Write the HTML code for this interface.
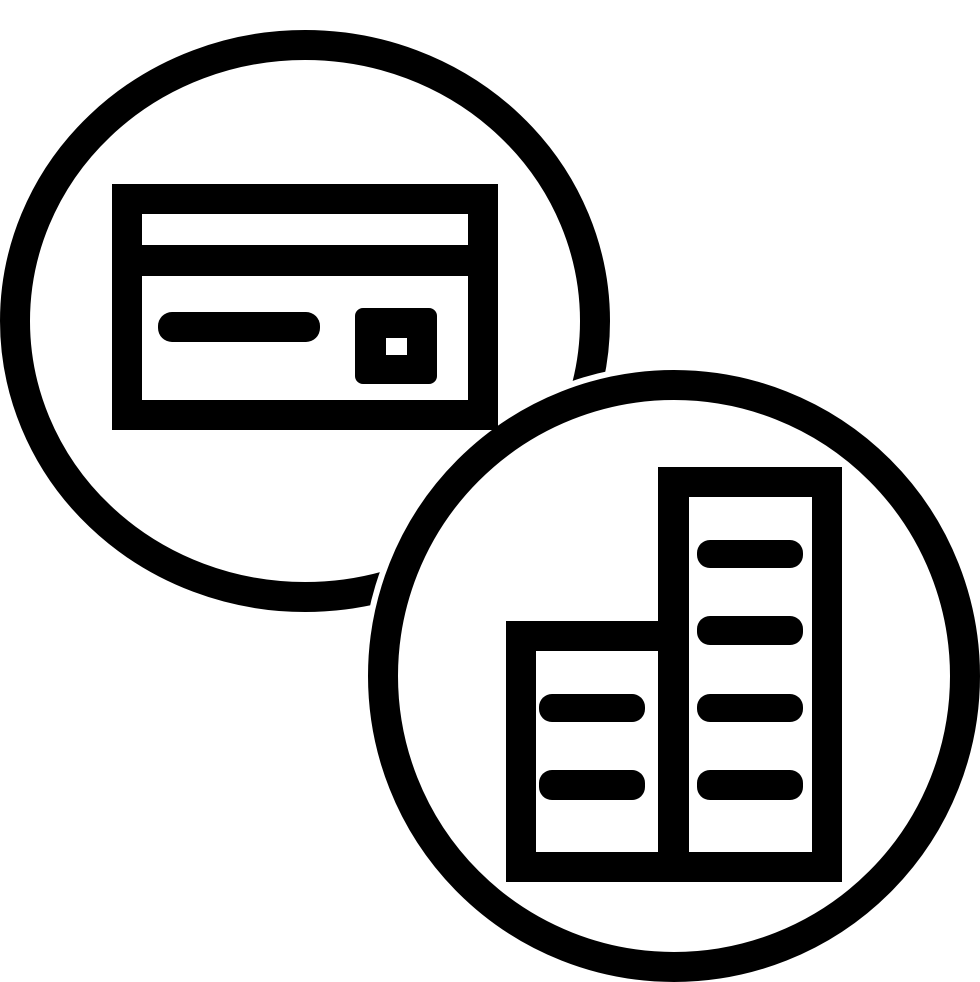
<!DOCTYPE html>
<html><head><meta charset="utf-8"><style>html,body{margin:0;padding:0;background:#fff}svg{display:block}</style></head>
<body>
<svg width="980" height="982" viewBox="0 0 980 982" xmlns="http://www.w3.org/2000/svg">
<rect width="980" height="982" fill="#fff"/>
<ellipse cx="305" cy="321" rx="290" ry="276" fill="none" stroke="#000" stroke-width="30"/>
<circle cx="674" cy="676" r="312" fill="#fff"/>
<circle cx="674" cy="676" r="291" fill="none" stroke="#000" stroke-width="30"/>
<rect x="127" y="199" width="356" height="216" fill="none" stroke="#000" stroke-width="30"/>
<rect x="127" y="245" width="356" height="31" fill="#000"/>
<rect x="158" y="312" width="162" height="30" rx="14" fill="#000"/>
<rect x="355" y="308" width="82" height="76" rx="8" fill="#000"/>
<rect x="386" y="338" width="21" height="17" fill="#fff"/>
<path d="M658 467 H842 V882 H506 V621 H658 Z" fill="#000"/>
<rect x="536" y="651" width="122" height="201" fill="#fff"/>
<rect x="689" y="497" width="123" height="355" fill="#fff"/>
<g fill="#000">
<rect x="697" y="540" width="106" height="28" rx="13"/>
<rect x="697" y="616" width="106" height="29" rx="13"/>
<rect x="697" y="694" width="106" height="28" rx="13"/>
<rect x="697" y="770" width="106" height="30" rx="13"/>
<rect x="539" y="694" width="106" height="28" rx="13"/>
<rect x="539" y="770" width="106" height="30" rx="13"/>
</g>
</svg>
</body></html>
